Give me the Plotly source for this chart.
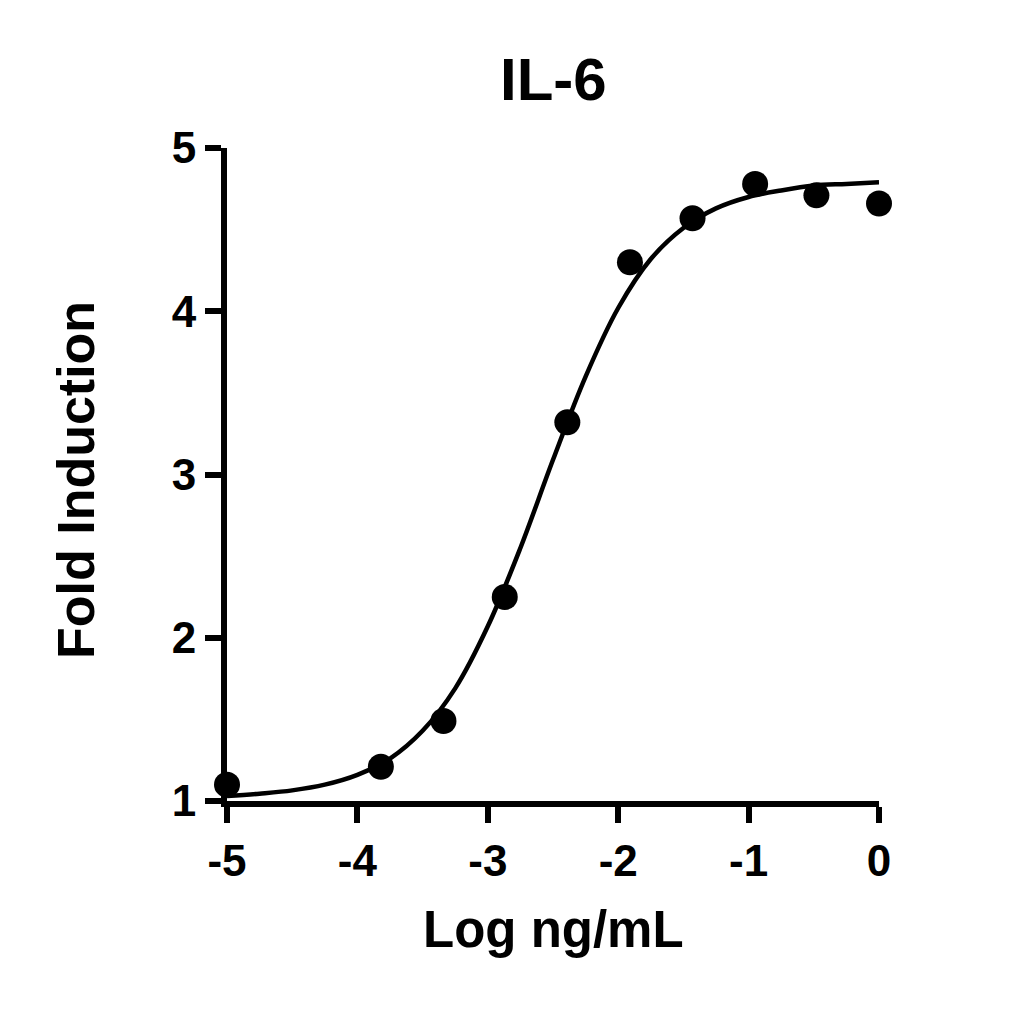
import plotly.graph_objects as go

# Measured data points (log ng/mL, fold induction)
dose_log = [-5.0, -3.82, -3.34, -2.87, -2.39, -1.91, -1.43, -0.95, -0.48, 0.0]
fold_ind = [1.10, 1.21, 1.49, 2.25, 3.32, 4.30, 4.57, 4.78, 4.71, 4.66]

# Fitted curve
curve_x = [-5.0, -4.75, -4.5, -4.25, -4.0, -3.75, -3.5, -3.25, -3.0, -2.75, -2.5,
           -2.25, -2.0, -1.75, -1.5, -1.25, -1.0, -0.75, -0.5, -0.25, 0.0]
curve_y = [1.03, 1.045, 1.065, 1.10, 1.16, 1.26, 1.43, 1.69, 2.07, 2.55, 3.09,
           3.60, 4.02, 4.32, 4.51, 4.63, 4.70, 4.74, 4.77, 4.78, 4.79]

x_ticks = [-5, -4, -3, -2, -1, 0]
y_ticks = [1, 2, 3, 4, 5]

FONT = "Liberation Sans, Arial, sans-serif"

fig = go.Figure()
fig.add_trace(go.Scatter(x=curve_x, y=curve_y, mode="lines",
                         line=dict(color="black", width=4.5, shape="spline"),
                         cliponaxis=False, showlegend=False, hoverinfo="skip"))
fig.add_trace(go.Scatter(x=dose_log, y=fold_ind, mode="markers",
                         marker=dict(color="black", size=26),
                         cliponaxis=False, showlegend=False))

axis_common = dict(showline=True, linecolor="black", linewidth=6,
                   ticks="outside", ticklen=16, tickwidth=6, tickcolor="black",
                   showgrid=False, zeroline=False,
                   tickfont=dict(family=FONT, size=44, color="black", weight="bold"))

fig.update_xaxes(range=[-5, 0], tickvals=x_ticks, ticktext=[str(v) for v in x_ticks],
                 **axis_common)
fig.update_yaxes(range=[1, 5], tickvals=y_ticks, ticktext=[str(v) for v in y_ticks],
                 **axis_common)

PW, PH = 652, 653
fig.update_layout(
    width=1020, height=1003,
    margin=dict(l=219, r=1020 - 219 - PW, t=140, b=1003 - 140 - PH),
    plot_bgcolor="white", paper_bgcolor="white",
    annotations=[
        dict(text="IL-6", x=0.5, xref="paper", y=1.0 + (148 - 80) / PH, yref="paper",
             xanchor="center", yanchor="middle", showarrow=False,
             font=dict(family=FONT, size=60, color="black", weight="bold")),
        dict(text="Log ng/mL", x=0.5, xref="paper", y=-(929 - 801) / PH, yref="paper",
             xanchor="center", yanchor="middle", showarrow=False,
             font=dict(family=FONT, size=51, color="black", weight="bold")),
        dict(text="Fold Induction", x=(75 - 226) / PW, xref="paper", y=(801 - 480) / PH,
             yref="paper", xanchor="center", yanchor="middle", textangle=-90,
             showarrow=False,
             font=dict(family=FONT, size=52, color="black", weight="bold")),
    ],
)

fig.write_html("out.html")
